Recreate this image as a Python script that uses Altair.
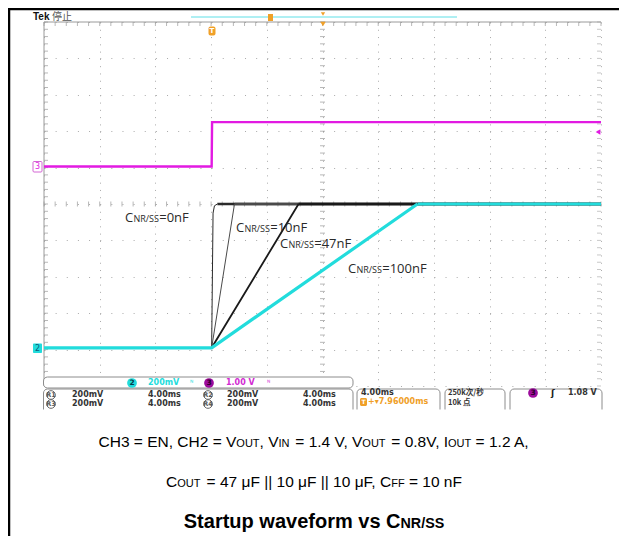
import altair as alt
import pandas as pd

# ---------------- data ----------------
# time in ms relative to screen centre (4 ms/div, 10 div)
t_en = [-20.0, -7.96, -7.93, 20.0]
v_en = [0.0, 0.0, 1.22, 1.22]          # CH3 = EN, volts

series_names = ["0nF", "10nF", "47nF", "100nF"]
t_0nF = [-20.0, -7.96, -7.86, -7.76, -7.55, 20.0]
v_0nF = [0.0, 0.0, 0.74, 0.78, 0.79, 0.79]
t_10nF = [-20.0, -7.96, -6.32, 20.0]
v_10nF = [0.0, 0.0, 0.79, 0.79]
t_47nF = [-20.0, -7.96, -1.72, 20.0]
v_47nF = [0.0, 0.0, 0.79, 0.79]
t_100nF = [-20.0, -7.96, 6.82, 20.0]
v_100nF = [0.0, 0.0, 0.79, 0.79]
label_values = ["=0nF", "=10nF", "=47nF", "=100nF"]

ch2_vdiv, ch2_pos = 0.2, -3.95      # V/div, ground position in div
ch3_vdiv, ch3_pos = 1.0, 1.03

x_ticks = [-20 + 4 * i for i in range(11)]
y_ticks = [-5 + i for i in range(11)]
minor_t = [round(-20 + 0.8 * i, 3) for i in range(51)]
minor_d = [round(-5 + 0.2 * i, 3) for i in range(51)]

# ---------------- styles ----------------
CYAN = "#22dcdc"
MAG = "#e21ae2"
ORANGE = "#f0a028"
GRID = "#aaaaaa"
W, H = 557, 364


def px(X):
    return X - 44


def py(Y):
    return Y - 22


xs = alt.Scale(domain=[-20, 20], nice=False, zero=False)
ys = alt.Scale(domain=[-5, 5], nice=False, zero=False)
x_axis = alt.Axis(values=x_ticks, grid=True, gridColor=GRID, gridDash=[1, 6.28], gridWidth=1,
                  labels=False, ticks=False, domain=False, title=None)
y_axis = alt.Axis(values=y_ticks, grid=True, gridColor=GRID, gridDash=[1, 10.14], gridWidth=1,
                  labels=False, ticks=False, domain=False, title=None)
X = alt.X("t:Q", scale=xs, axis=x_axis)
Y = alt.Y("d:Q", scale=ys, axis=y_axis)

one = pd.DataFrame({"k": [0]})


def txt(s, Xp, Yp, size=8, color="#222", font="DejaVu Sans", weight="normal",
        align="left", baseline="middle"):
    return alt.Chart(one).mark_text(text=s, fontSize=size, color=color, font=font,
                                    fontWeight=weight, align=align, baseline=baseline).encode(
        x=alt.value(px(Xp)), y=alt.value(py(Yp)))


def rect(X1, Y1, X2, Y2, fill="white", stroke=None, sw=1, r=0):
    props = dict(fill=fill, cornerRadius=r)
    if stroke:
        props.update(stroke=stroke, strokeWidth=sw)
    return alt.Chart(one).mark_rect(**props).encode(
        x=alt.value(px(X1)), x2=alt.value(px(X2)), y=alt.value(py(Y1)), y2=alt.value(py(Y2)))


def hline(X1, X2, Yp, color, sw=1):
    return alt.Chart(one).mark_rule(color=color, strokeWidth=sw).encode(
        x=alt.value(px(X1)), x2=alt.value(px(X2)), y=alt.value(py(Yp)))


def vline(Xp, Y1, Y2, color, sw=1):
    return alt.Chart(one).mark_rule(color=color, strokeWidth=sw).encode(
        x=alt.value(px(Xp)), y=alt.value(py(Y1)), y2=alt.value(py(Y2)))


def sym(shape, Xp, Yp, size, color, filled=True):
    return alt.Chart(one).mark_point(shape=shape, size=size, filled=filled, color=color,
                                     opacity=1, strokeWidth=1).encode(
        x=alt.value(px(Xp)), y=alt.value(py(Yp)))


layers = []

# ---------------- graticule ticks ----------------
tick_c_h = pd.DataFrame({"t": minor_t, "d": [0.0] * len(minor_t)})
tick_c_v = pd.DataFrame({"t": [0.0] * len(minor_d), "d": minor_d})
tick_top = pd.DataFrame({"t": minor_t, "d": [5.0] * len(minor_t)})
tick_left = pd.DataFrame({"t": [-20.0] * len(minor_d), "d": minor_d})
tick_right = pd.DataFrame({"t": [20.0] * len(minor_d), "d": minor_d})

layers.append(alt.Chart(tick_c_h).mark_tick(orient="vertical", size=5, thickness=1, color="#9a9a9a").encode(x=X, y=Y))
layers.append(alt.Chart(tick_c_v).mark_tick(orient="horizontal", size=5, thickness=1, color="#9a9a9a").encode(x=X, y=Y))
layers.append(alt.Chart(tick_top).mark_tick(orient="vertical", size=4, thickness=1, color="#9a9a9a", yOffset=2).encode(x=X, y=Y))
layers.append(alt.Chart(tick_left).mark_tick(orient="horizontal", size=4, thickness=1, color="#9a9a9a", xOffset=2).encode(x=X, y=Y))
layers.append(alt.Chart(tick_right).mark_tick(orient="horizontal", size=4, thickness=1, color="#b0b0b0", xOffset=-2).encode(x=X, y=Y))
# solid top / left graticule border
layers.append(hline(44, 601, 22, "#9a9a9a", 1))
layers.append(vline(44, 22, 386, "#9a9a9a", 1))

# ---------------- traces ----------------
en_df = pd.DataFrame({"t": t_en, "d": [v / ch3_vdiv + ch3_pos for v in v_en], "i": range(len(t_en))})
layers.append(alt.Chart(en_df).mark_line(color=MAG, strokeWidth=2.4).encode(x=X, y=Y, order="i:Q"))

t_list = [t_0nF, t_10nF, t_47nF, t_100nF]
v_list = [v_0nF, v_10nF, v_47nF, v_100nF]
ramp_w = {"0nF": 1.0, "10nF": 1.0, "47nF": 1.8, "100nF": 3.2}
flat_w = {"0nF": 2.4, "10nF": 2.4, "47nF": 2.4, "100nF": 3.2}
rows = []
for name, ts, vs in zip(series_names, t_list, v_list):
    k = vs.index(max(vs))
    for i, (t, v) in enumerate(zip(ts, vs)):
        d = v / ch2_vdiv + ch2_pos
        if i <= k:
            rows.append(dict(t=t, d=d, cap=name, grp=name + "_r", i=i, w=ramp_w[name]))
        if i >= k:
            rows.append(dict(t=t, d=d, cap=name, grp=name + "_f", i=i, w=flat_w[name]))
vout = pd.DataFrame(rows)
col_scale = alt.Scale(domain=series_names, range=["#2a2a2a", "#4a4a4a", "#1a1a1a", CYAN])

black = vout[vout["cap"] != "100nF"]
cyan = vout[vout["cap"] == "100nF"]
for part in (black, cyan):
    layers.append(alt.Chart(part).mark_line().encode(
        x=X, y=Y, detail="grp:N", order="i:Q",
        color=alt.Color("cap:N", scale=col_scale, legend=None),
        strokeWidth=alt.StrokeWidth("w:Q", scale=None, legend=None)))

# ---------------- curve labels ----------------
lab_pos = [(125, 222), (236, 232), (280, 248), (348, 273)]
for (lx, ly), val in zip(lab_pos, label_values):
    layers.append(txt("C", lx, ly, 13, "#2a2a2a", "Open Sans", baseline="alphabetic"))
    layers.append(txt("NR/SS", lx + 8.4, ly, 9, "#2a2a2a", "Open Sans", baseline="alphabetic"))
    layers.append(txt(val, lx + 34.2, ly, 13, "#2a2a2a", "Open Sans", baseline="alphabetic"))

# ---------------- scope header & markers ----------------
layers.append(txt("Tek", 33, 17, 10, "#111", "Liberation Sans", "bold"))
layers.append(txt("停止", 52, 17, 10, "#555", "Noto Sans CJK SC"))
layers.append(hline(191, 457, 17, "#5fdfe6", 1))
layers.append(rect(268, 14, 273, 21, ORANGE))
layers.append(sym("triangle-down", 323, 14, 18, ORANGE))
layers.append(sym("triangle-down", 323, 24, 30, ORANGE))
layers.append(rect(208.5, 26.5, 215.5, 35.5, ORANGE, r=2))
layers.append(txt("T", 212, 31, 7, "white", "DejaVu Sans", "bold", align="center"))
layers.append(sym("triangle-left", 598, 132, 30, MAG))
layers.append(rect(33, 161.5, 42, 172, "white", "#d466d4", 1, 1))
layers.append(txt("3", 37.5, 167, 8, MAG, "DejaVu Sans", align="center"))
layers.append(rect(33, 343.5, 42, 353, CYAN, r=1))
layers.append(txt("2", 37.5, 348.5, 8, "#0a5a7a", "DejaVu Sans", align="center"))

# ---------------- status bar ----------------
layers.append(rect(43.5, 377, 353, 388, "white", "#8c8c8c", 1, 4))
layers.append(rect(43.5, 389, 353, 416, "white", "#8c8c8c", 1, 4))
layers.append(rect(357, 389, 440, 416, "white", "#8c8c8c", 1, 4))
layers.append(rect(445, 389, 505, 416, "white", "#8c8c8c", 1, 4))
layers.append(rect(510, 389, 602, 416, "white", "#8c8c8c", 1, 4))

layers.append(sym("circle", 132, 383, 95, CYAN))
layers.append(txt("2", 132, 383, 7.5, "#063a4a", "DejaVu Sans", "bold", align="center"))
layers.append(txt("200mV", 148, 383, 8, CYAN, "DejaVu Sans", "bold"))
layers.append(txt("ᴺ", 190, 383, 7, CYAN, "DejaVu Sans"))
layers.append(sym("circle", 209, 383, 95, "#9c0c9c"))
layers.append(txt("3", 209, 383, 7.5, "#2a002a", "DejaVu Sans", "bold", align="center"))
layers.append(txt("1.00 V", 226, 383, 8, "#d22ad2", "DejaVu Sans", "bold"))
layers.append(txt("ᴺ", 267, 383, 7, "#d22ad2", "DejaVu Sans"))

for ry, (ra, rb) in zip([395, 404], [("R1", "R2"), ("R3", "R4")]):
    layers.append(sym("circle", 51, ry, 75, "#666", filled=False))
    layers.append(txt(ra, 51, ry, 6.5, "#555", "DejaVu Sans", "bold", align="center"))
    layers.append(txt("200mV", 72, ry, 8, "#333", "DejaVu Sans", "bold"))
    layers.append(txt("4.00ms", 148, ry, 8, "#333", "DejaVu Sans", "bold"))
    layers.append(sym("circle", 208, ry, 75, "#666", filled=False))
    layers.append(txt(rb, 208, ry, 6.5, "#555", "DejaVu Sans", "bold", align="center"))
    layers.append(txt("200mV", 227, ry, 8, "#333", "DejaVu Sans", "bold"))
    layers.append(txt("4.00ms", 303, ry, 8, "#333", "DejaVu Sans", "bold"))

layers.append(txt("4.00ms", 361, 393, 8, "#333", "DejaVu Sans", "bold"))
layers.append(rect(360, 398, 367, 406, ORANGE, r=1.5))
layers.append(txt("T", 363.5, 402, 6, "white", "DejaVu Sans", "bold", align="center"))
layers.append(txt("+▾7.96000ms", 368, 402, 8, ORANGE, "DejaVu Sans", "bold"))
layers.append(txt("250k次/秒", 448, 393, 7.5, "#333", "Noto Sans CJK SC", "bold"))
layers.append(txt("10k 点", 448, 402.5, 7.5, "#333", "Noto Sans CJK SC", "bold"))
layers.append(sym("circle", 533, 393, 95, "#9c0c9c"))
layers.append(txt("3", 533, 393, 7.5, "#2a002a", "DejaVu Sans", "bold", align="center"))
layers.append(txt("ʃ", 551, 393, 9, "#222", "DejaVu Sans", "bold"))
layers.append(txt("1.08 V", 568, 393, 8, "#333", "DejaVu Sans", "bold"))

# crop of the screenshot
layers.append(rect(-10, 409.5, 640, 425, "white"))

# ---------------- frame ----------------
layers.append(vline(9, 8, 540, "#000", 2.5))
layers.append(hline(8, 620, 9, "#000", 2.5))

# ---------------- caption ----------------
AR = {" ": 278, ",": 278, ".": 278, "/": 278, "=": 584, "|": 260, "μ": 576, "A": 667, "C": 722,
      "E": 667, "F": 611, "H": 722, "I": 278, "N": 722, "O": 778, "R": 722, "S": 667, "T": 611,
      "U": 722, "V": 667, "n": 556}
ARB = {" ": 278, "/": 278, "S": 667, "t": 333, "a": 556, "r": 389, "u": 611, "p": 611, "w": 778,
       "v": 556, "e": 556, "f": 333, "o": 611, "m": 889, "s": 556, "C": 722, "N": 722, "R": 722}


def width(s, size, bold):
    tab = ARB if bold else AR
    return sum(tab.get(c, 556) for c in s) * size / 1000.0


def caption(segs, cx, base):
    total = sum(width(s, sz, b) for s, sz, b in segs)
    cur = cx - total / 2
    out = []
    for j, (s, sz, b) in enumerate(segs):
        weight = "bold" if b else "normal"
        nxt = segs[j + 1] if j + 1 < len(segs) else None
        end = cur + width(s, sz, b)
        if nxt is not None and nxt[1] < sz:
            # main-size run followed by a small-caps run: anchor its end exactly
            out.append(txt(s.strip(), end, base, sz, "#000", "Liberation Sans", weight,
                           align="right", baseline="alphabetic"))
        else:
            lead = len(s) - len(s.lstrip())
            x0 = cur + width(s[:lead], sz, b)
            out.append(txt(s.strip(), x0, base, sz, "#000", "Liberation Sans", weight,
                           baseline="alphabetic"))
        cur = end
    return out


M, S = 15.5, 11.0
B, BS = 20.0, 14.3
line1 = [("CH3 = EN, CH2 = V", M, False), ("OUT", S, False), (", V", M, False), ("IN", S, False),
         (" = 1.4 V, V", M, False), ("OUT", S, False), (" = 0.8V, I", M, False), ("OUT", S, False),
         (" = 1.2 A,", M, False)]
line2 = [("C", M, False), ("OUT", S, False), (" = 47 μF || 10 μF || 10 μF, C", M, False),
         ("FF", S, False), (" = 10 nF", M, False)]
line3 = [("Startup waveform vs C", B, True), ("NR/SS", BS, True)]
layers += caption(line1, 314, 447)
layers += caption(line2, 314, 487)
layers += caption(line3, 314, 528)

chart = alt.layer(*layers).properties(
    width=W, height=H,
    padding={"left": 36, "top": 14, "right": 18, "bottom": 150},
    autosize=alt.AutoSizeParams(type="none"),
    background="white",
).configure_view(stroke=None)

chart.save("out.html", embed_options={"renderer": "svg", "actions": False})
